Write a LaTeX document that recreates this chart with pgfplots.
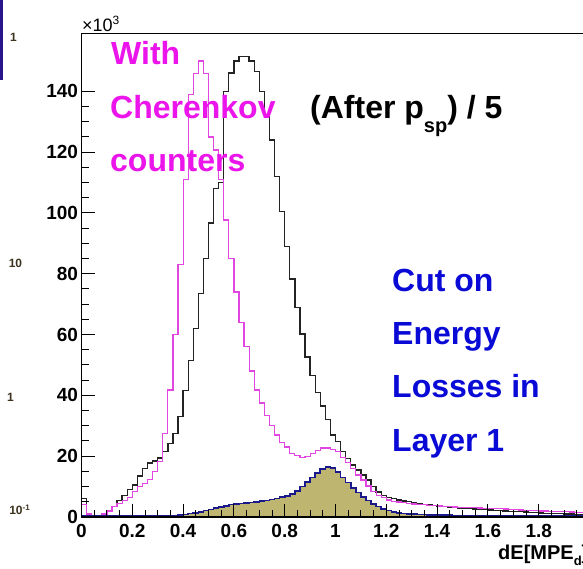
\documentclass[border=0pt]{standalone}
\usepackage{fontspec}
\setmainfont{Liberation Sans}
\usepackage{pgfplots}
\usepackage{pgfplotstable}
\pgfplotsset{compat=1.18}
\definecolor{mag}{RGB}{225,70,225}
\definecolor{magtxt}{RGB}{235,20,235}
\definecolor{olivefill}{RGB}{190,182,112}
\definecolor{navyline}{RGB}{25,25,140}
\definecolor{bluetxt}{RGB}{10,10,215}
\definecolor{histblk}{RGB}{35,35,35}
\definecolor{leftlbl}{RGB}{60,50,30}
\definecolor{strip}{RGB}{40,20,140}
\newcommand{\bigf}{\fontsize{32}{32}\selectfont\bfseries}

\pgfplotstableread{
x y
0 0
0.00 6
0.02 0.5
0.04 0.3
0.06 0.5
0.08 1
0.10 2
0.12 3.5
0.14 5.5
0.16 7
0.18 9
0.20 10.5
0.22 13.5
0.24 16
0.26 17.8
0.28 18.4
0.30 19.4
0.32 21.5
0.34 24.2
0.36 27.5
0.38 33
0.40 41.5
0.42 51.5
0.44 62
0.46 73.5
0.48 85
0.50 96.7
0.52 108
0.54 110
0.56 140
0.58 146
0.60 150
0.62 151.5
0.64 151.5
0.66 150
0.68 146.5
0.70 140
0.72 132
0.74 124
0.76 112
0.78 100.4
0.80 89
0.82 78.3
0.84 68.8
0.86 60.2
0.88 52.6
0.90 46.5
0.92 41
0.94 36.5
0.96 32
0.98 27
1.00 24.8
1.02 21.5
1.04 19.3
1.06 17.1
1.08 15.5
1.10 13.8
1.12 12.2
1.14 10
1.16 8.2
1.18 7
1.20 6.5
1.22 6
1.24 5.6
1.26 5.3
1.28 5
1.30 4.7
1.32 4.5
1.34 4.2
1.36 4
1.38 3.8
1.40 3.6
1.42 3.4
1.44 3.2
1.46 3.1
1.48 3.0
1.50 2.8
1.52 2.7
1.54 2.6
1.56 2.5
1.58 2.4
1.60 2.3
1.62 2.2
1.64 2.1
1.66 2.0
1.68 1.9
1.70 1.8
1.72 1.7
1.74 1.6
1.76 1.5
1.78 1.4
1.80 1.3
1.82 1.25
1.84 1.2
1.86 1.1
1.88 1.05
1.90 1.0
1.92 0.95
1.94 0.9
1.96 0.9
1.98 0.85
2.00 0.85
}\blackhist

\pgfplotstableread{
x y
0 0
0.00 4
0.02 1
0.04 0.5
0.06 0.5
0.08 1
0.10 2
0.12 3.5
0.14 4.5
0.16 5.5
0.18 6.5
0.20 8.3
0.22 10
0.24 10.9
0.26 12.4
0.28 14.9
0.30 18.2
0.32 27.5
0.34 41.8
0.36 60
0.38 83
0.40 111
0.42 139
0.44 146
0.46 150
0.48 146
0.50 125
0.52 120.7
0.54 111
0.56 97.7
0.58 85
0.60 74
0.62 64
0.64 56
0.66 48
0.68 41.8
0.70 37.5
0.72 33.5
0.74 30
0.76 27
0.78 24.5
0.80 23
0.82 21
0.84 20.2
0.86 19.6
0.88 20
0.90 21
0.92 22
0.94 22.7
0.96 22.7
0.98 22.2
1.00 21.5
1.02 19.7
1.04 17.8
1.06 16
1.08 13.8
1.10 12.2
1.12 10.2
1.14 8.5
1.16 7.2
1.18 6.3
1.20 5.6
1.22 5.2
1.24 4.9
1.26 4.7
1.28 4.5
1.30 4.3
1.32 4.2
1.34 4.0
1.36 3.9
1.38 3.7
1.40 3.6
1.42 3.5
1.44 3.4
1.46 3.3
1.48 3.2
1.50 3.15
1.52 3.1
1.54 3.0
1.56 2.95
1.58 2.9
1.60 2.8
1.62 2.75
1.64 2.7
1.66 2.6
1.68 2.5
1.70 2.4
1.72 2.3
1.74 2.25
1.76 2.2
1.78 2.1
1.80 2.0
1.82 1.95
1.84 1.9
1.86 1.8
1.88 1.75
1.90 1.7
1.92 1.65
1.94 1.6
1.96 1.55
1.98 1.5
2.00 1.5
}\maghist

\pgfplotstableread{
x y
0.00 0.5
0.02 0.3
0.04 0.3
0.06 0.3
0.08 0.3
0.10 0.3
0.12 0.3
0.14 0.3
0.16 0.3
0.18 0.3
0.20 0.3
0.22 0.3
0.24 0.3
0.26 0.3
0.28 0.3
0.30 0.3
0.32 0.3
0.34 0.3
0.36 0.4
0.38 0.6
0.40 0.8
0.42 1.1
0.44 1.4
0.46 1.7
0.48 2.1
0.50 2.5
0.52 2.9
0.54 3.3
0.56 3.7
0.58 4.1
0.60 4.3
0.62 4.5
0.64 4.7
0.66 4.8
0.68 5.0
0.70 5.2
0.72 5.4
0.74 5.7
0.76 6.1
0.78 6.5
0.80 7.0
0.82 7.6
0.84 8.5
0.86 10
0.88 11.5
0.90 13
0.92 14.5
0.94 15.8
0.96 16.5
0.98 16.2
1.00 14.8
1.02 13
1.04 11.3
1.06 9.6
1.08 8
1.10 6.6
1.12 5.4
1.14 4.3
1.16 3.4
1.18 2.7
1.20 2.1
1.22 1.7
1.24 1.4
1.26 1.2
1.28 1.0
1.30 0.9
1.32 0.85
1.34 0.8
1.36 0.75
1.38 0.7
1.40 0.65
1.42 0.6
1.44 0.6
1.46 0.55
1.48 0.55
1.50 0.5
1.52 0.5
1.54 0.5
1.56 0.45
1.58 0.45
1.60 0.45
1.62 0.4
1.64 0.4
1.66 0.4
1.68 0.4
1.70 0.35
1.72 0.35
1.74 0.35
1.76 0.35
1.78 0.35
1.80 0.3
1.82 0.3
1.84 0.3
1.86 0.3
1.88 0.3
1.90 0.3
1.92 0.3
1.94 0.3
1.96 0.3
1.98 0.3
2.00 0.3
}\cuthist

\begin{document}
\begin{tikzpicture}[x=1pt,y=1pt]
\clip (0pt,0pt) rectangle (583pt,569pt);
\fill[white] (0pt,0pt) rectangle (583pt,569pt);
\begin{axis}[
  at={(81.5pt,52pt)}, anchor=south west,
  scale only axis, width=508pt, height=483.4pt,
  xmin=0, xmax=2, ymin=0, ymax=159,
  axis on top,
  tick align=inside, tick pos=left,
  major tick length=13pt, minor tick length=7pt,
  xtick={0,0.2,0.4,0.6,0.8,1,1.2,1.4,1.6,1.8,2},
  xticklabels={0,0.2,0.4,0.6,0.8,1,1.2,1.4,1.6,1.8,2},
  ytick={0,20,40,60,80,100,120,140},
  yticklabels={0,20,40,60,80,100,120,140},
  minor x tick num=3, minor y tick num=3,
  scaled y ticks=false,
  ticklabel style={font=\fontsize{19}{19}\selectfont\bfseries},
  /pgf/number format/assume math mode=true,
  xticklabel style={yshift=-4pt},
  axis line style={line width=1.2pt, black},
  every tick/.style={line width=1pt, black},
]
\addplot[const plot mark left, fill=olivefill, draw=none] table[x=x,y=y] {\cuthist} \closedcycle;
\addplot[const plot mark left, histblk, line width=1.3pt] table[x=x,y=y] {\blackhist};
\addplot[const plot mark left, mag, line width=1.2pt] table[x=x,y=y] {\maghist};
\addplot[const plot mark left, navyline, line width=1.6pt] table[x=x,y=y] {\cuthist};
\end{axis}
% texts
\node[anchor=base west, inner sep=0pt, text=magtxt, font=\bigf] at (111pt,504pt) {With};
\node[anchor=base west, inner sep=0pt, text=magtxt, font=\bigf] at (110pt,450.5pt) {Cherenkov};
\node[anchor=base west, inner sep=0pt, text=magtxt, font=\bigf] at (110pt,397pt) {counters};
\node[anchor=base west, inner sep=0pt, text=black, font=\bigf] at (310pt,450pt) {(After p\raisebox{-14pt}{\fontsize{20}{20}\selectfont sp}) / 5};
\node[anchor=base west, inner sep=0pt, text=bluetxt, font=\bigf] at (392pt,277pt) {Cut on};
\node[anchor=base west, inner sep=0pt, text=bluetxt, font=\bigf] at (392pt,224pt) {Energy};
\node[anchor=base west, inner sep=0pt, text=bluetxt, font=\bigf] at (392pt,171pt) {Losses in};
\node[anchor=base west, inner sep=0pt, text=bluetxt, font=\bigf] at (392pt,117pt) {Layer 1};
\node[anchor=base west, inner sep=0pt, font=\fontsize{20}{20}\selectfont\bfseries] at (498pt,9pt) {dE[MPE\raisebox{-6pt}{\fontsize{13}{13}\selectfont d}]};
\node[anchor=base west, inner sep=0pt, font=\fontsize{18}{18}\selectfont] at (82pt,537.5pt) {×10\raisebox{7pt}{\fontsize{12}{12}\selectfont 3}};
% neighbouring-panel remnants at the left edge
\fill[strip] (0pt,489pt) rectangle (3pt,569pt);
\node[text=leftlbl, font=\fontsize{12}{12}\selectfont\bfseries, inner sep=0pt] at (13.5pt,531.5pt) {1};
\node[text=leftlbl, font=\fontsize{12}{12}\selectfont\bfseries, inner sep=0pt] at (15.5pt,306pt) {10};
\node[text=leftlbl, font=\fontsize{12}{12}\selectfont\bfseries, inner sep=0pt] at (10.5pt,172pt) {1};
\node[text=leftlbl, font=\fontsize{12}{12}\selectfont\bfseries, inner sep=0pt] at (19.5pt,59pt) {10\raisebox{4pt}{\fontsize{8}{8}\selectfont -1}};
\end{tikzpicture}
\end{document}
